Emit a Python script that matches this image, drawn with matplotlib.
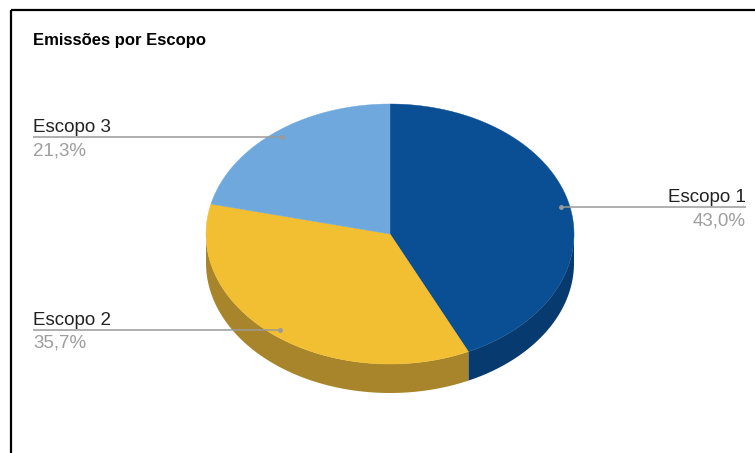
import numpy as np
import matplotlib.pyplot as plt
from matplotlib.patches import Polygon, Rectangle

plt.rcParams['font.family'] = ['Liberation Sans', 'DejaVu Sans']

# data
title = "Emissões por Escopo"
labels = ["Escopo 1", "Escopo 2", "Escopo 3"]
shares = [43.0, 35.7, 21.3]
top_colors = ["#0a4e94", "#f1bf31", "#6fa8dc"]
side_colors = ["#073b70", "#a8852a", "#4f7ea8"]

# pie layout in pixels
cx, cy = 390, 234
rx, ry = 184, 130
depth = 29

fig = plt.figure(figsize=(7.55, 4.53), dpi=100)
ax = fig.add_axes([0, 0, 1, 1])
ax.set_xlim(0, 755)
ax.set_ylim(453, 0)
ax.axis('off')

# frame
ax.add_patch(Rectangle((10.5, 9.5), 800, 500, fill=False, ec='black', lw=1.6))
ax.text(33, 45, title, fontsize=12, fontweight='bold', va='baseline', ha='left')


def pt(theta, r=1.0):
    # theta in degrees, clockwise from 12 o'clock
    t = np.radians(theta)
    return cx + rx * r * np.sin(t), cy - ry * r * np.cos(t)


fracs = np.array(shares) / sum(shares)
starts = np.concatenate([[0], np.cumsum(fracs)[:-1]]) * 360
ends = np.cumsum(fracs) * 360

# side walls (front half: 90..270 degrees)
for s, e, c in zip(starts, ends, side_colors):
    a0, a1 = max(s, 90), min(e, 270)
    if a1 <= a0:
        continue
    th = np.linspace(a0, a1, 100)
    xs, ys = pt(th)
    poly = np.vstack([np.column_stack([xs, ys]),
                      np.column_stack([xs[::-1], ys[::-1] + depth])])
    ax.add_patch(Polygon(poly, closed=True, fc=c, ec='none'))

# top faces
for s, e, c in zip(starts, ends, top_colors):
    th = np.linspace(s, e, 200)
    xs, ys = pt(th)
    poly = np.vstack([[cx, cy], np.column_stack([xs, ys])])
    ax.add_patch(Polygon(poly, closed=True, fc=c, ec=c, lw=0.3))

# labels with leader lines
for lab, sh, s, e in zip(labels, shares, starts, ends):
    mid = (s + e) / 2
    px, py = pt(mid, 0.95)
    if mid < 180:
        tx, ha = 746, 'right'
    else:
        tx, ha = 33, 'left'
    ax.plot([px, tx], [py, py], color='#9a9a9a', lw=1.1, solid_capstyle='butt')
    ax.plot(px, py, 'o', color='#9a9a9a', ms=3.5, mec='none')
    ax.text(tx, py - 5, lab, fontsize=13.5, color='#222222', ha=ha, va='baseline')
    ax.text(tx, py + 18, f"{sh:.1f}%".replace('.', ','), fontsize=13.5,
            color='#9e9e9e', ha=ha, va='baseline')

fig.savefig('out.png', dpi=100)
